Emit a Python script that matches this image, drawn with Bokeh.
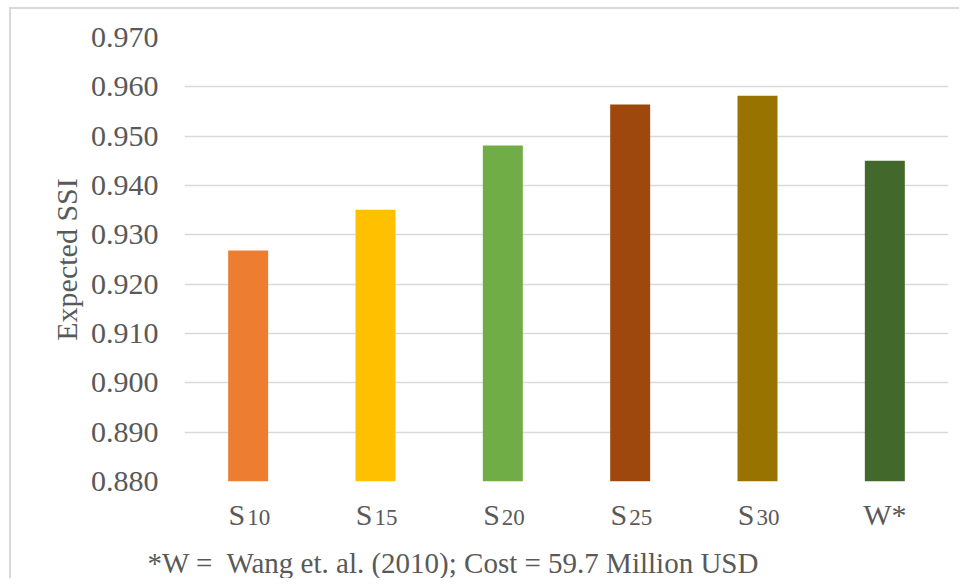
from bokeh.plotting import figure
from bokeh.layouts import column
from bokeh.models import FixedTicker, Range1d, NumeralTickFormatter, Title, ColumnDataSource
from bokeh.core.properties import value
from bokeh.embed import file_html
from bokeh.resources import INLINE

categories = ["S10", "S15", "S20", "S25", "S30", "W*"]
label_main = ["S", "S", "S", "S", "S", "W*"]
label_sub = ["10", "15", "20", "25", "30", ""]
ssi_values = [0.9268, 0.9351, 0.9481, 0.9564, 0.9582, 0.9450]
bar_colors = ["#ED7D31", "#FFC000", "#70AD47", "#9E480E", "#997300", "#43682B"]
y_ticks = [0.88, 0.89, 0.90, 0.91, 0.92, 0.93, 0.94, 0.95, 0.96, 0.97]
footer_text = "*W =\u00a0 Wang et. al. (2010); Cost = 59.7 Million USD"

FONT = "Liberation Serif"
TXT = "#595959"
GRID = "#d9d9d9"

p = figure(x_range=categories, y_range=Range1d(0.88, 0.97),
           width=948, height=488, output_backend="svg", toolbar_location=None,
           min_border_left=173, min_border_right=11, min_border_top=28,
           min_border_bottom=16)
p.outline_line_color = None
p.border_fill_color = "white"

p.vbar(x=categories, top=ssi_values, bottom=0.88, width=0.314, color=bar_colors, line_color=None)

p.yaxis.ticker = FixedTicker(ticks=y_ticks)
p.yaxis.formatter = NumeralTickFormatter(format="0.000")
p.yaxis.axis_line_color = None
p.yaxis.major_tick_line_color = None
p.yaxis.minor_tick_line_color = None
p.yaxis.major_label_text_font = FONT
p.yaxis.major_label_text_font_size = "30px"
p.yaxis.major_label_text_color = TXT
p.yaxis.major_label_standoff = 20
p.yaxis.axis_label = "Expected SSI"
p.yaxis.axis_label_text_font = FONT
p.yaxis.axis_label_text_font_size = "30px"
p.yaxis.axis_label_text_font_style = "normal"
p.yaxis.axis_label_text_color = TXT
p.yaxis.axis_label_standoff = 5

p.ygrid.ticker = FixedTicker(ticks=y_ticks)
p.ygrid.grid_line_color = GRID
p.ygrid.grid_line_width = 1.5
p.xgrid.grid_line_color = None
p.xaxis.visible = False

# category labels (with subscripts) in a strip sharing the x range
q = figure(x_range=p.x_range, y_range=Range1d(0, 1),
           width=948, height=81, output_backend="svg", toolbar_location=None,
           min_border_left=173, min_border_right=11, min_border_top=0,
           min_border_bottom=0)
q.outline_line_color = None
q.border_fill_color = "white"
q.axis.visible = False
q.grid.visible = False

has_sub = [bool(s) for s in label_sub]
src = ColumnDataSource(dict(
    x=categories,
    main=[m if h else "" for m, h in zip(label_main, has_sub)],
    solo=[m if not h else "" for m, h in zip(label_main, has_sub)],
    sub=label_sub,
    top=[1] * len(categories)))
q.text(x="x", y="top", text="main", source=src, x_offset=-3,
       y_offset=17, text_align="right", text_baseline="alphabetic",
       text_font=value(FONT), text_font_size="30px", text_color=TXT)
q.text(x="x", y="top", text="solo", source=src, x_offset=0,
       y_offset=17, text_align="center", text_baseline="alphabetic",
       text_font=value(FONT), text_font_size="30px", text_color=TXT)
q.text(x="x", y="top", text="sub", source=src, x_offset=-1, y_offset=20,
       text_align="left", text_baseline="alphabetic",
       text_font=value(FONT), text_font_size="23px", text_color=TXT)

q.add_layout(Title(text=footer_text, align="left", offset=-37, standoff=0,
                   text_font=FONT, text_font_size="29px", text_font_style="normal",
                   text_color=TXT), "below")

layout = column(p, q, spacing=0,
                styles={"border-left": "2px solid #d9d9d9", "border-top": "2px solid #d9d9d9",
                        "margin-left": "9px", "margin-top": "7px"})

open("out.html", "w").write(file_html(layout, INLINE))
